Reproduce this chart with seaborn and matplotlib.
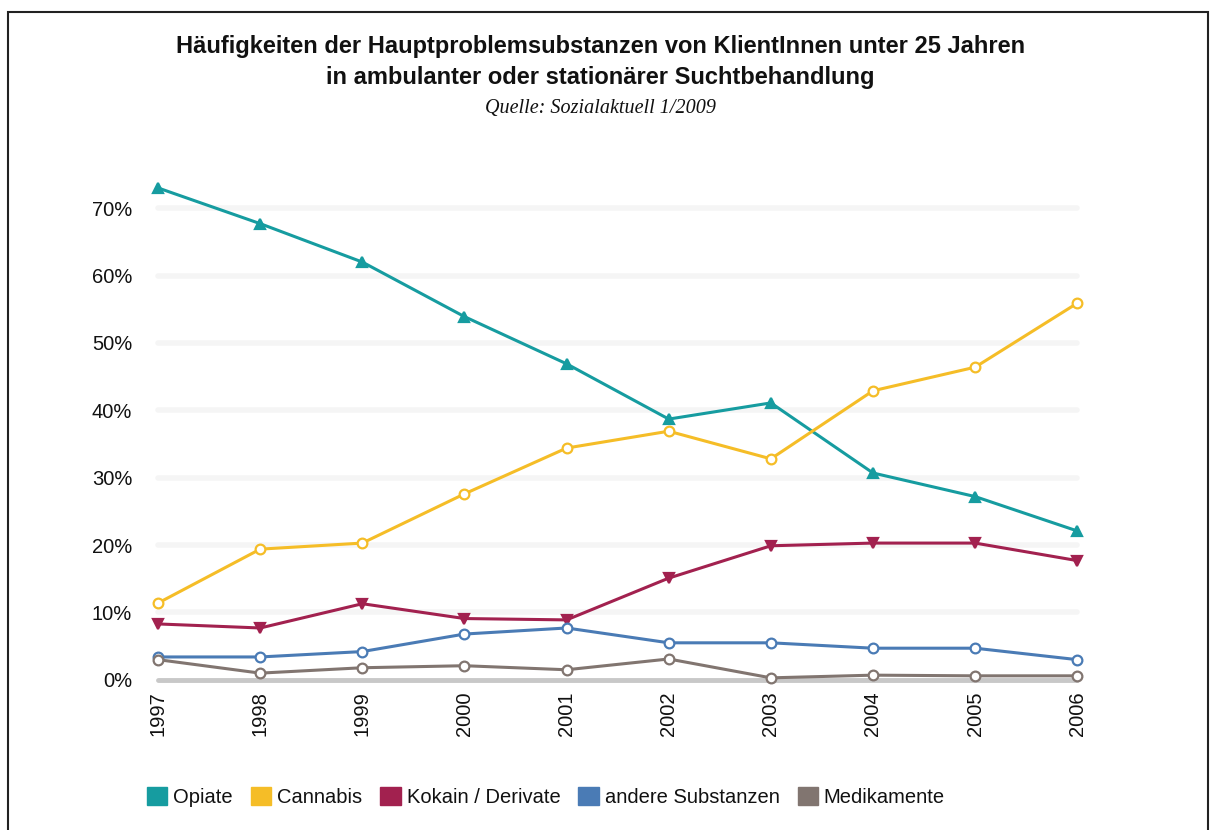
import seaborn as sns
import pandas as pd
import numpy as np
import matplotlib.pyplot as plt
from matplotlib.patches import Rectangle, Patch

years = ["1997", "1998", "1999", "2000", "2001", "2002", "2003", "2004", "2005", "2006"]
opiate = [73.0, 67.7, 62.0, 53.9, 46.9, 38.7, 41.1, 30.7, 27.2, 22.1]
cannabis = [11.4, 19.4, 20.3, 27.6, 34.4, 36.9, 32.8, 42.9, 46.4, 55.9]
kokain = [8.3, 7.7, 11.3, 9.1, 8.9, 15.1, 19.9, 20.3, 20.3, 17.7]
andere = [3.4, 3.4, 4.2, 6.8, 7.7, 5.5, 5.5, 4.7, 4.7, 3.0]
medikamente = [3.0, 1.0, 1.8, 2.1, 1.5, 3.1, 0.3, 0.7, 0.6, 0.6]

names = ["Opiate", "Cannabis", "Kokain / Derivate", "andere Substanzen", "Medikamente"]
colors = ["#169ca0", "#f5bd27", "#a2214f", "#4a7bb5", "#817570"]
markers = ["^", "o", "v", "o", "o"]
hollow = [False, True, False, True, True]

sns.set_theme(style="white")
plt.rcParams["font.family"] = ["Liberation Sans", "DejaVu Sans"]
plt.rcParams["text.color"] = "#111111"
plt.rcParams["xtick.color"] = "#111111"
plt.rcParams["ytick.color"] = "#111111"

fig = plt.figure(figsize=(12.16, 8.30), dpi=100)
ax = fig.add_axes([0.1132, 0.1687, 0.7895, 0.6211])

x = np.arange(len(years))
for name, vals, col, mk, hol in zip(names, [opiate, cannabis, kokain, andere, medikamente],
                                     colors, markers, hollow):
    df = pd.DataFrame({"x": x, "y": vals})
    sns.lineplot(data=df, x="x", y="y", ax=ax, color=col, linewidth=2.2,
                 marker=mk, markersize=7, markeredgewidth=1.6,
                 markeredgecolor=col, markerfacecolor="white" if hol else col,
                 zorder=3, clip_on=False)

ax.set_xlim(-0.2, 9.2)
ax.set_ylim(-1.5, 75)
ax.set_yticks([0, 10, 20, 30, 40, 50, 60, 70])
ax.set_yticklabels(["0%", "10%", "20%", "30%", "40%", "50%", "60%", "70%"], fontsize=14.5)
ax.set_xticks(x)
ax.set_xticklabels(years, rotation=90, fontsize=14.5)
ax.tick_params(axis="both", length=0, pad=4)
ax.tick_params(axis="x", pad=1)
ax.set_xlabel("")
ax.set_ylabel("")
for s in ax.spines.values():
    s.set_visible(False)

xmin = 0.2 / 9.4
xmax = 9.2 / 9.4
for v in [10, 20, 30, 40, 50, 60, 70]:
    ax.axhline(v, xmin=xmin, xmax=xmax, color="#f5f5f5", linewidth=4, zorder=1)
ax.axhline(0, xmin=xmin, xmax=xmax, color="#c8c8c8", linewidth=3.5, zorder=2)

fig.text(0.494, 0.944, "Häufigkeiten der Hauptproblemsubstanzen von KlientInnen unter 25 Jahren",
         ha="center", va="center", fontsize=17, fontweight="bold")
fig.text(0.494, 0.907, "in ambulanter oder stationärer Suchtbehandlung",
         ha="center", va="center", fontsize=17, fontweight="bold")
fig.text(0.494, 0.869, "Quelle: Sozialaktuell 1/2009", ha="center", va="center",
         fontsize=14.5, fontstyle="italic", family=["Liberation Serif", "DejaVu Serif"])

handles = [Patch(facecolor=c, edgecolor=c) for c in colors]
fig.legend(handles, names, loc="center left", bbox_to_anchor=(0.106, 0.040),
           ncol=5, frameon=False, fontsize=14.5, handlelength=1.0, handleheight=1.0,
           handletextpad=0.3, columnspacing=0.9)

fig.patches.append(Rectangle((8 / 1216, -0.01), 1200 / 1216, 1 - 12 / 830 + 0.01,
                             transform=fig.transFigure, fill=False,
                             edgecolor="#222222", linewidth=1.5))

fig.savefig("out.png", dpi=100)
